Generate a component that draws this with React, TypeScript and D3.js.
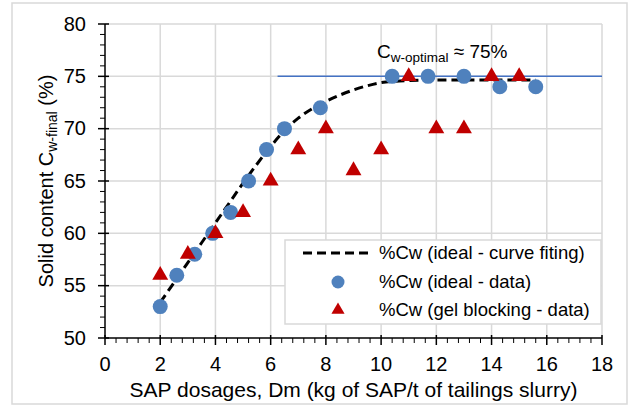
import React from 'react';
import * as d3 from 'd3';

// ideal - data (blue circles)
const idealX = [2, 2.6, 3.25, 3.9, 4.55, 5.2, 5.85, 6.5, 7.8, 10.4, 11.7, 13, 14.3, 15.6];
const idealY = [53, 56, 58, 60, 62, 65, 68, 70, 72, 75, 75, 75, 74, 74];

// gel blocking - data (red triangles)
const gelX = [2, 3, 4, 5, 6, 7, 8, 9, 10, 11, 12, 13, 14, 15];
const gelY = [56, 58, 60, 62, 65, 68, 70, 66, 68, 75, 70, 70, 75, 75];

// curve fitting
const fitX = [2, 2.5, 3, 3.5, 4, 4.5, 5, 5.5, 6, 6.5, 7, 7.5, 8, 8.5, 9, 9.5, 10, 11, 12, 13, 14, 15.6];
const fitY = [53.4, 55.3, 57.2, 59.1, 61.0, 62.9, 64.8, 66.6, 68.3, 69.8, 71.0, 71.9, 72.6, 73.2, 73.7, 74.1, 74.4, 74.6, 74.65, 74.65, 74.65, 74.65];

// optimal line
const optimalX = [6.25, 18];
const optimalY = 75;

const xTicks = [0, 2, 4, 6, 8, 10, 12, 14, 16, 18];
const yTicks = [50, 55, 60, 65, 70, 75, 80];

const legendLabels = ['%Cw (ideal - curve fiting)', '%Cw (ideal - data)', '%Cw (gel blocking - data)'];

const W = 634;
const H = 406;
const margin = { top: 24, right: 32, bottom: 68, left: 105 };
const font = '"Liberation Sans", Arial, sans-serif';
const blue = '#4f81bd';
const red = '#c00000';
const grid = '#d9d9d9';

export default function App() {
  const x = d3.scaleLinear().domain([0, 18]).range([margin.left, W - margin.right]);
  const y = d3.scaleLinear().domain([50, 80]).range([H - margin.bottom, margin.top]);

  const xMinor = d3.range(0, 18.001, 0.4).filter((v) => Math.abs(v / 2 - Math.round(v / 2)) > 0.01);
  const yMinor = d3.range(50, 80.001, 1).filter((v) => v % 5 !== 0);

  const fitLine = d3.line<number>()
    .x((d, i) => x(fitX[i]))
    .y((d) => y(d))
    .curve(d3.curveMonotoneX);

  const tri = d3.symbol().type(d3.symbolTriangle).size(110);

  const y0 = y(50);
  const x0 = x(0);

  // legend box
  const lg = { x: 285, y: 240, w: 316, h: 84 };
  const rowY = [253, 282, 310];

  return (
    <svg width={W} height={H} style={{ position: 'absolute', left: 0, top: 0, background: '#fff' }} fontFamily={font}>
      <rect x={12} y={3} width={615} height={401} fill="#fff" stroke={grid} strokeWidth={1.5} />

      {/* gridlines */}
      {xTicks.filter((v) => v > 0).map((v) => (
        <line key={'gx' + v} x1={x(v)} x2={x(v)} y1={y(80)} y2={y0} stroke={grid} strokeWidth={1.5} />
      ))}
      {yTicks.filter((v) => v > 50).map((v) => (
        <line key={'gy' + v} x1={x0} x2={x(18)} y1={y(v)} y2={y(v)} stroke={grid} strokeWidth={1.5} />
      ))}

      {/* optimal line */}
      <line x1={x(optimalX[0])} x2={x(optimalX[1])} y1={y(optimalY)} y2={y(optimalY)} stroke="#4472c4" strokeWidth={1.5} />

      {/* axes */}
      <line x1={x0} x2={x0} y1={y(80)} y2={y0} stroke="#000" strokeWidth={1.5} />
      <line x1={x0} x2={x(18)} y1={y0} y2={y0} stroke="#000" strokeWidth={1.5} />
      {yTicks.map((v) => (
        <g key={'yt' + v}>
          <line x1={x0 - 7} x2={x0 + 4} y1={y(v)} y2={y(v)} stroke="#000" strokeWidth={1.5} />
          <text x={86} y={y(v)} dy="0.33em" textAnchor="end" fontSize={20} fill="#000">{v}</text>
        </g>
      ))}
      {yMinor.map((v) => (
        <line key={'ym' + v} x1={x0 - 5} x2={x0} y1={y(v)} y2={y(v)} stroke="#000" strokeWidth={1} />
      ))}
      {xTicks.map((v) => (
        <g key={'xt' + v}>
          <line x1={x(v)} x2={x(v)} y1={y0 - 3} y2={y0 + 7} stroke="#000" strokeWidth={1.5} />
          <text x={x(v)} y={371} textAnchor="middle" fontSize={20} fill="#000">{v}</text>
        </g>
      ))}
      {xMinor.map((v) => (
        <line key={'xm' + v} x1={x(v)} x2={x(v)} y1={y0} y2={y0 + 5} stroke="#000" strokeWidth={1} />
      ))}

      {/* axis titles */}
      <text x={(x0 + x(18)) / 2} y={397} textAnchor="middle" fontSize={21} fill="#000">
        SAP dosages, Dm (kg of SAP/t of tailings slurry)
      </text>
      <text transform={`translate(53, ${(y(80) + y0) / 2}) rotate(-90)`} textAnchor="middle" fontSize={20} fill="#000">
        Solid content C<tspan fontSize={14} dy={4}>w-final</tspan><tspan dy={-4}> (%)</tspan>
      </text>

      {/* fitted curve */}
      <path d={fitLine(fitY) || ''} fill="none" stroke="#000" strokeWidth={3} strokeDasharray="9,5" />

      {/* data */}
      {idealX.map((v, i) => (
        <circle key={'c' + i} cx={x(v)} cy={y(idealY[i])} r={7.5} fill={blue} />
      ))}
      {gelX.map((v, i) => (
        <path key={'t' + i} d={tri() || ''} transform={`translate(${x(v)}, ${y(gelY[i])})`} fill={red} />
      ))}

      {/* annotation */}
      <text x={377} y={58} fontSize={19} fill="#000">
        C<tspan fontSize={13.5} dy={4}>w-optimal</tspan><tspan dy={-4}> ≈ 75%</tspan>
      </text>

      {/* legend */}
      <rect x={lg.x} y={lg.y} width={lg.w} height={lg.h} fill="#fff" stroke={grid} strokeWidth={1.5} />
      <line x1={303} x2={372} y1={rowY[0]} y2={rowY[0]} stroke="#000" strokeWidth={3} strokeDasharray="9,5" />
      <circle cx={338} cy={rowY[1]} r={6.5} fill={blue} />
      <path d={d3.symbol().type(d3.symbolTriangle).size(75)() || ''} transform={`translate(338, ${rowY[2]})`} fill={red} />
      {legendLabels.map((t, i) => (
        <text key={t} x={379} y={rowY[i]} dy="0.35em" fontSize={18.5} fill="#000">{t}</text>
      ))}
    </svg>
  );
}
